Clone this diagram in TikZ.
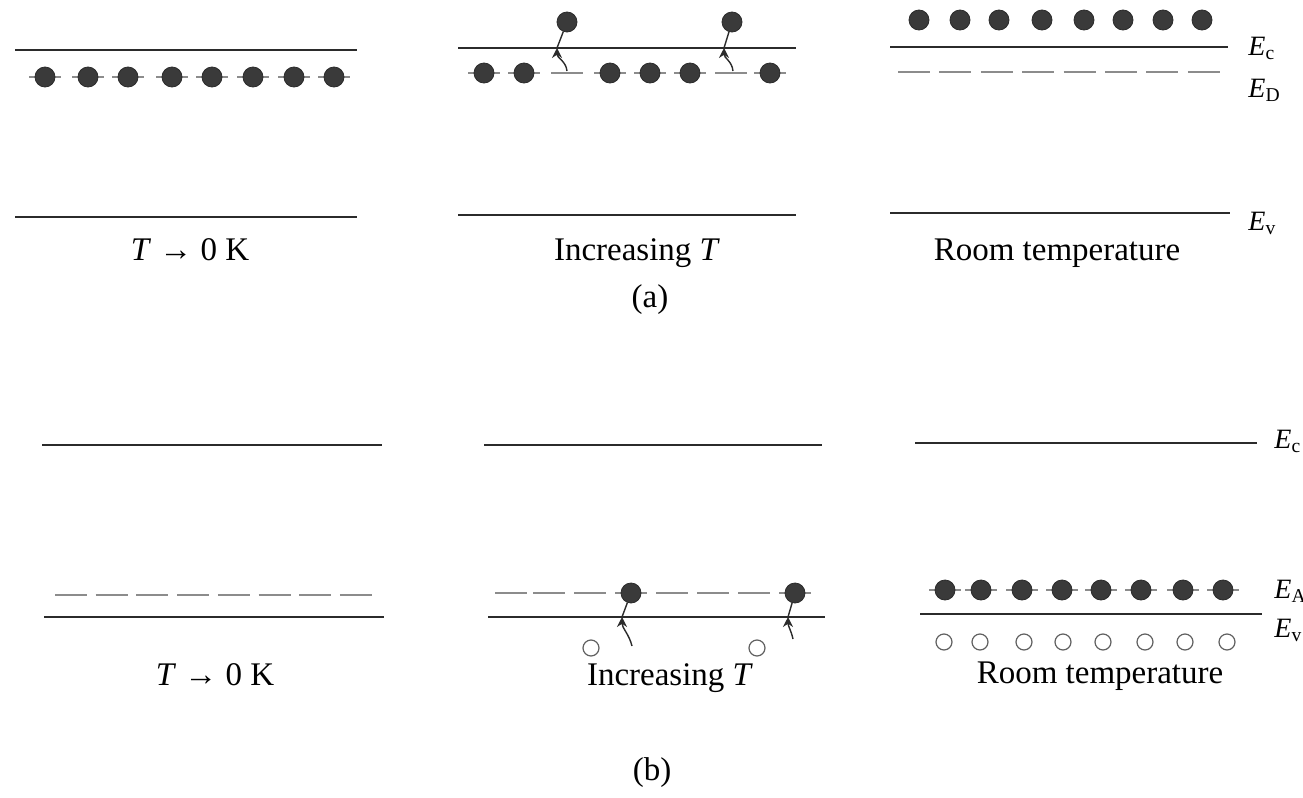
\documentclass[tikz,border=0pt]{standalone}
\usepackage{fontspec}
\setmainfont{Liberation Serif}
\usetikzlibrary{arrows.meta}
\definecolor{cInk}{HTML}{2B2B2B}
\definecolor{cDot}{HTML}{3A3A3A}
\definecolor{cDash}{HTML}{8C8C8C}
\tikzset{
  band/.style={draw=cInk,line width=1.2pt},
  site/.style={draw=cDash,line width=0.9pt},
  elec/.style={circle,fill=cDot,draw=cInk,line width=0.4pt,inner sep=0pt,minimum size=10pt},
  hole/.style={circle,draw=cInk!75,line width=0.6pt,inner sep=0pt,minimum size=8pt},
  jump/.style={-{Stealth[length=5pt,width=5pt]},draw=cInk,line width=0.7pt},
  stem/.style={draw=cInk,line width=0.7pt},
  caption/.style={anchor=base,font=\fontsize{16.5}{20}\selectfont},
  elabel/.style={anchor=base west,inner sep=0pt,font=\fontsize{14}{16}\selectfont},
}
\newcommand{\lvl}[1]{\textit{E}\textsubscript{#1}}

\begin{document}
\begin{tikzpicture}[x=0.5pt,y=-0.5pt]
  \useasboundingbox (0,0) rectangle (1303,798);

  % ---- (a) n-type: donor level below E_c
  % T -> 0 K
  \draw[band] (15,50) -- (357,50);
  \draw[band] (15,217) -- (357,217);
  \foreach \x [count=\i] in {45,88,128,172,212,253,294,334} {
    \draw[site] ({\x-16},77) -- ({\x+16},77);
    \node[elec] (a1e\i) at (\x,77) {};
  }
  \node[caption] (a1t) at (190,260) {\textit{T} \textbf{→} 0 K};

  % increasing T
  \draw[band] (458,48) -- (796,48);
  \draw[band] (458,215) -- (796,215);
  \foreach \x in {484,524,567,610,650,690,731,770}
    \draw[site] ({\x-16},73) -- ({\x+16},73);
  \foreach \x [count=\i] in {484,524,610,650,690,770}
    \node[elec] (a2e\i) at (\x,73) {};
  \node[elec] (a2u1) at (567,22) {};
  \node[elec] (a2u2) at (732,22) {};
  \coordinate (a2s1) at (567,71);
  \coordinate (a2x1) at (557,48);
  \coordinate (a2s2) at (733,71);
  \coordinate (a2x2) at (724,48);
  \draw[jump] (a2s1) .. controls (566,61) and (557,58) .. (a2x1);
  \draw[stem] (a2x1) -- (a2u1);
  \draw[jump] (a2s2) .. controls (732,61) and (724,58) .. (a2x2);
  \draw[stem] (a2x2) -- (a2u2);
  \node[caption] (a2t) at (637,260) {Increasing \textit{T}};

  % room temperature
  \draw[band] (890,47) -- (1228,47);
  \draw[band] (890,213) -- (1230,213);
  \foreach \i in {0,...,7}
    \draw[site] ({898+41.4*\i},72) -- ({930+41.4*\i},72);
  \foreach \x [count=\i] in {919,960,999,1042,1084,1123,1163,1202}
    \node[elec] (a3e\i) at (\x,20) {};
  \node[caption] (a3t) at (1057,260) {Room temperature};
  \node[elabel] (a-ec) at (1248,55) {\lvl{c}};
  \node[elabel] (a-ed) at (1248,97) {\lvl{D}};
  \node[elabel] (a-ev) at (1248,230) {\lvl{v}};

  \node[caption] (acap) at (650,307) {(a)};

  % ---- (b) p-type: acceptor level above E_v
  % T -> 0 K
  \draw[band] (42,445) -- (382,445);
  \draw[band] (44,617) -- (384,617);
  \foreach \i in {0,...,7}
    \draw[site] ({55+40.7*\i},595) -- ({87+40.7*\i},595);
  \node[caption] (b1t) at (215,685) {\textit{T} \textbf{→} 0 K};

  % increasing T
  \draw[band] (484,445) -- (822,445);
  \draw[band] (488,617) -- (825,617);
  \foreach \x in {511,549,590,631,672,713,754,795}
    \draw[site] ({\x-16},593) -- ({\x+16},593);
  \node[elec] (b2e1) at (631,593) {};
  \node[elec] (b2e2) at (795,593) {};
  \node[hole] (b2h1) at (591,648) {};
  \node[hole] (b2h2) at (757,648) {};
  \coordinate (b2s1) at (632,646);
  \coordinate (b2x1) at (622,617);
  \coordinate (b2s2) at (793,639);
  \coordinate (b2x2) at (788,617);
  \draw[jump] (b2s1) .. controls (629,634) and (622,628) .. (b2x1);
  \draw[stem] (b2x1) -- (b2e1);
  \draw[jump] (b2s2) .. controls (791,630) and (788,626) .. (b2x2);
  \draw[stem] (b2x2) -- (b2e2);
  \node[caption] (b2t) at (670,685) {Increasing \textit{T}};

  % room temperature
  \draw[band] (915,443) -- (1257,443);
  \draw[band] (920,614) -- (1262,614);
  \foreach \x [count=\i] in {945,981,1022,1062,1101,1141,1183,1223} {
    \draw[site] ({\x-16},590) -- ({\x+16},590);
    \node[elec] (b3e\i) at (\x,590) {};
  }
  \foreach \x [count=\i] in {944,980,1024,1063,1103,1145,1185,1227}
    \node[hole] (b3h\i) at (\x,642) {};
  \node[caption] (b3t) at (1100,683) {Room temperature};
  \node[elabel] (b-ec) at (1274,448) {\lvl{c}};
  \node[elabel] (b-ea) at (1274,598) {\lvl{A}};
  \node[elabel] (b-ev) at (1274,637) {\lvl{v}};

  \node[caption] (bcap) at (652,780) {(b)};
\end{tikzpicture}
\end{document}
